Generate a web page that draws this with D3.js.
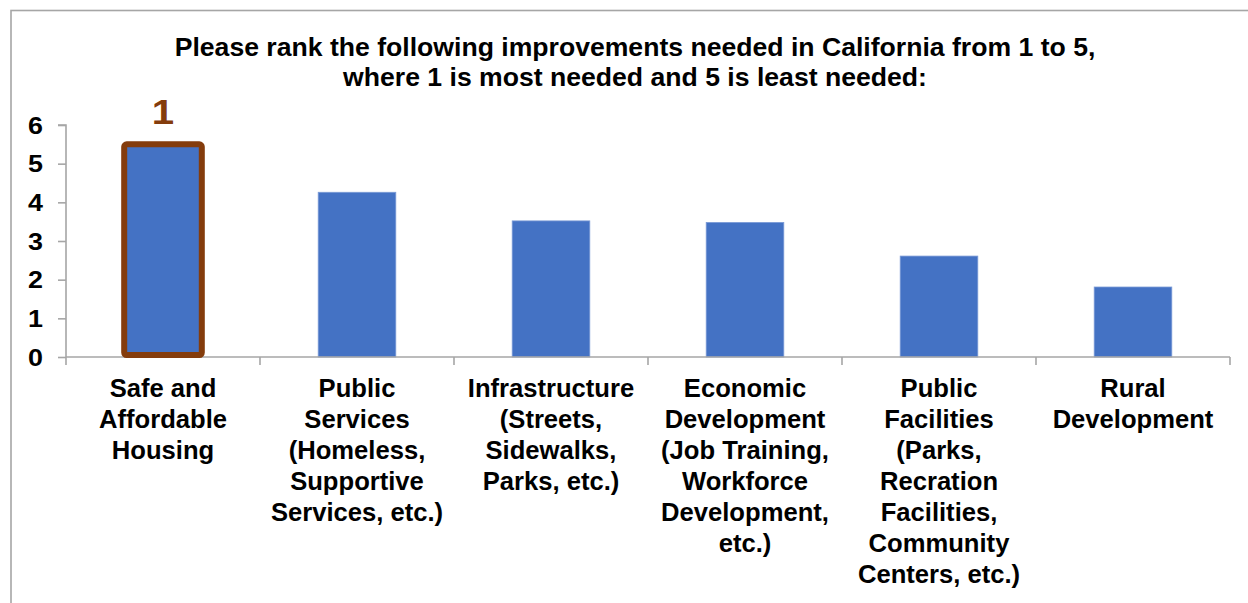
<!DOCTYPE html>
<html>
<head>
<meta charset="utf-8">
<script src="https://cdn.jsdelivr.net/npm/d3@7"></script>
<style>
  html, body { margin: 0; padding: 0; background: #fff; }
  svg { display: block; }
  text { font-family: "Liberation Sans", Arial, sans-serif; font-weight: bold; }
</style>
</head>
<body>
<svg id="chart" width="1248" height="603"></svg>
<script>
// Survey ranking: average score per improvement category
const categories = [
  ["Safe and", "Affordable", "Housing"],
  ["Public", "Services", "(Homeless,", "Supportive", "Services, etc.)"],
  ["Infrastructure", "(Streets,", "Sidewalks,", "Parks, etc.)"],
  ["Economic", "Development", "(Job Training,", "Workforce", "Development,", "etc.)"],
  ["Public", "Facilities", "(Parks,", "Recration", "Facilities,", "Community", "Centers, etc.)"],
  ["Rural", "Development"]
];
const values = [5.5, 4.26, 3.52, 3.48, 2.61, 1.81];
const yTicks = [0, 1, 2, 3, 4, 5, 6];
const titleLines = [
  "Please rank the following improvements needed in California from 1 to 5,",
  "where 1 is most needed and 5 is least needed:"
];
const highlightIndex = 0;
const highlightLabel = "1";

const svg = d3.select("#chart");
const plotLeft = 66, plotRight = 1230, plotTop = 125, plotBottom = 357;
const axisColor = "#a6a6a6";

// outer chart frame (continues past the right and bottom edges)
svg.append("rect")
  .attr("x", 11).attr("y", 10.5)
  .attr("width", 1300).attr("height", 700)
  .attr("fill", "none").attr("stroke", axisColor).attr("stroke-width", 1.6);

const x = d3.scaleBand()
  .domain(d3.range(categories.length))
  .range([plotLeft, plotRight])
  .paddingInner(0.6)
  .paddingOuter(0.3);

const y = d3.scaleLinear().domain([0, 6]).range([plotBottom, plotTop]);

// title
svg.append("g").selectAll("text").data(titleLines).join("text")
  .attr("x", 635)
  .attr("y", (d, i) => 56 + i * 30)
  .attr("text-anchor", "middle")
  .attr("font-size", 26.6)
  .attr("fill", "#000")
  .text(d => d);

// bars
svg.append("g").selectAll("rect").data(values).join("rect")
  .attr("x", (d, i) => x(i))
  .attr("y", d => y(d))
  .attr("width", x.bandwidth())
  .attr("height", d => plotBottom - y(d))
  .attr("fill", "#4472C4")
  .attr("stroke", "#7a9ad6")
  .attr("stroke-width", 0.8);

// y axis
const yAxis = svg.append("g")
  .attr("transform", `translate(${plotLeft},0)`)
  .call(d3.axisLeft(y).tickValues(yTicks).tickSize(8).tickFormat(() => ""));
yAxis.selectAll("path, line").attr("stroke", axisColor).attr("stroke-width", 1.6);
yAxis.select(".domain").attr("d", `M-8,${y(6)}H0V${plotBottom}`);

// y tick labels
svg.append("g").selectAll("text").data(yTicks).join("text")
  .attr("transform", d => `translate(43,${y(d) + 8.5}) scale(1.12,1)`)
  .attr("text-anchor", "end")
  .attr("font-size", 24)
  .attr("fill", "#000")
  .text(d => d);

// x axis with category boundary ticks
const step = (plotRight - plotLeft) / categories.length;
const xAxisG = svg.append("g");
xAxisG.append("line")
  .attr("x1", plotLeft).attr("x2", plotRight)
  .attr("y1", plotBottom).attr("y2", plotBottom)
  .attr("stroke", axisColor).attr("stroke-width", 1.6);
xAxisG.selectAll("line.tick").data(d3.range(categories.length + 1)).join("line")
  .attr("class", "tick")
  .attr("x1", i => plotLeft + i * step).attr("x2", i => plotLeft + i * step)
  .attr("y1", plotBottom).attr("y2", plotBottom + 8)
  .attr("stroke", axisColor).attr("stroke-width", 1.6);

// category labels
const labels = svg.append("g").selectAll("text").data(categories).join("text")
  .attr("text-anchor", "middle")
  .attr("font-size", 25.6)
  .attr("fill", "#000");
labels.selectAll("tspan").data((d, i) => d.map(t => ({ t, i }))).join("tspan")
  .attr("x", d => x(d.i) + x.bandwidth() / 2)
  .attr("y", (d, j) => 397 + j * 31)
  .text(d => d.t);

// highlight outline around the top-ranked bar
const hv = values[highlightIndex];
svg.append("rect")
  .attr("x", x(highlightIndex))
  .attr("y", y(hv))
  .attr("width", x.bandwidth())
  .attr("height", plotBottom - 2 - y(hv))
  .attr("rx", 2.5)
  .attr("fill", "none")
  .attr("stroke", "#843C0C")
  .attr("stroke-width", 6);

svg.append("text")
  .attr("transform", `translate(${x(highlightIndex) + x.bandwidth() / 2},124) scale(1.15,1)`)
  .attr("text-anchor", "middle")
  .attr("font-size", 35)
  .attr("fill", "#843C0C")
  .text(highlightLabel);
</script>
</body>
</html>
